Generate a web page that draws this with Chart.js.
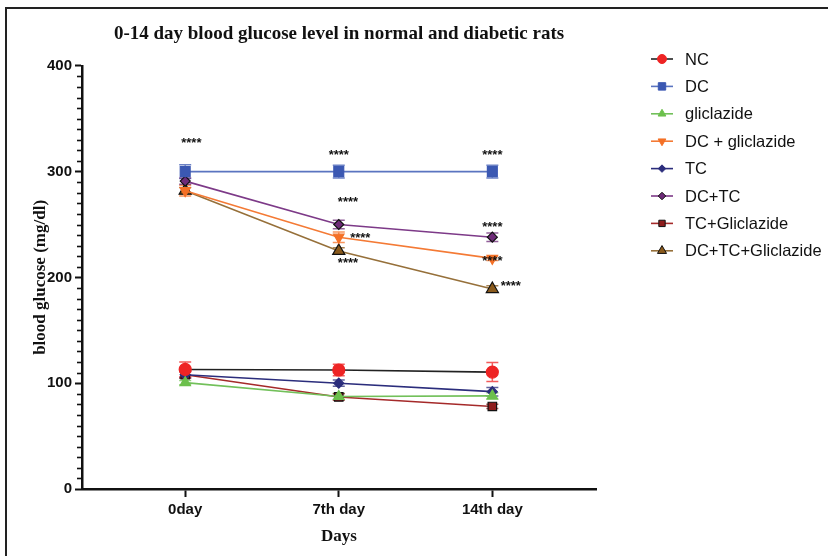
<!DOCTYPE html>
<html>
<head>
<meta charset="utf-8">
<script src="https://cdn.jsdelivr.net/npm/chart.js@4.4.1/dist/chart.umd.min.js"></script>
<style>
  body { margin: 0; background: #fff; }
  #wrap { position: relative; width: 828px; height: 556px; overflow: hidden; }
  #frame { position: absolute; left: 5px; top: 7px; width: 900px; height: 600px;
           border-top: 2.5px solid #222; border-left: 2.5px solid #222; }
  #chart { position: absolute; left: 0; top: 0; }
</style>
</head>
<body>
<div id="wrap">
  <div id="frame"></div>
  <canvas id="chart" width="828" height="556"></canvas>
</div>
<script>
// x categories
const days = ['0day', '7th day', '14th day'];

// series means (mg/dl)
const nc = [113, 112.5, 110.5];
const dc = [300, 300, 300];
const gliclazide = [100.5, 87.5, 88];
const dcGliclazide = [282, 238, 218];
const tc = [108, 100, 92];
const dcTc = [291, 250, 238];
const tcGliclazide = [108, 87, 78];
const dcTcGliclazide = [282, 225, 189];

// error bars (+/-)
const ncErr = [7, 5.5, 9];
const dcErr = [6.5, 6, 6];
const gliclazideErr = [2, 3, 3];
const dcGliclazideErr = [5, 5, 2];
const tcErr = [3, 3, 4];
const dcTcErr = [3, 4, 4];
const tcGliclazideErr = [3, 3, 2];
const dcTcGliclazideErr = [3, 3, 3];

const yTicks = [0, 100, 200, 300, 400];

// significance marks: day index and glucose value where they sit
const sigX = [0.04, 1, 2, 1.06, 1.14, 1.06, 2, 2, 2.12];
const sigY = [328, 317, 317, 272, 238.5, 214.5, 248.5, 216, 193];

function series(label, values, errors, line, fill, border, style, radius, rotation) {
  return {
    label: label,
    data: values.map((v, i) => ({ x: i, y: v })),
    errors: errors,
    borderColor: line,
    borderWidth: 1.6,
    pointStyle: style,
    pointRadius: radius,
    pointRotation: rotation || 0,
    pointBackgroundColor: fill,
    pointBorderColor: border,
    pointBorderWidth: 1.2,
    errColor: fill,
    tension: 0,
    fill: false
  };
}

const datasets = [
  series('NC', nc, ncErr, '#222222', '#ee2424', '#ee2424', 'circle', 6),
  series('DC', dc, dcErr, '#5a74c0', '#3b58b2', '#3b58b2', 'rect', 7),
  series('gliclazide', gliclazide, gliclazideErr, '#72c05a', '#6cc04c', '#6cc04c', 'triangle', 6),
  series('DC + gliclazide', dcGliclazide, dcGliclazideErr, '#f47a35', '#f47026', '#f47026', 'triangle', 6, 180),
  series('TC', tc, tcErr, '#2b2d7c', '#2b2d7c', '#2b2d7c', 'rectRot', 5),
  series('DC+TC', dcTc, dcTcErr, '#7d3a88', '#6e2a78', '#111111', 'rectRot', 5),
  series('TC+Gliclazide', tcGliclazide, tcGliclazideErr, '#a52a2a', '#8e1c1c', '#111111', 'rect', 6),
  series('DC+TC+Gliclazide', dcTcGliclazide, dcTcGliclazideErr, '#96703a', '#8a5a1c', '#111111', 'triangle', 7)
];

const errorBars = {
  id: 'errorBars',
  beforeDatasetsDraw(chart) {
    const ctx = chart.ctx;
    const xs = chart.scales.x, ys = chart.scales.y;
    chart.data.datasets.forEach(ds => {
      ctx.save();
      ctx.strokeStyle = ds.errColor;
      ctx.globalAlpha = 0.75;
      ctx.lineWidth = 1.5;
      ds.data.forEach((p, i) => {
        const e = ds.errors[i];
        const x = xs.getPixelForValue(p.x);
        const y1 = ys.getPixelForValue(p.y + e);
        const y2 = ys.getPixelForValue(p.y - e);
        ctx.beginPath();
        ctx.moveTo(x, y1); ctx.lineTo(x, y2);
        ctx.moveTo(x - 6, y1); ctx.lineTo(x + 6, y1);
        ctx.moveTo(x - 6, y2); ctx.lineTo(x + 6, y2);
        ctx.stroke();
      });
      ctx.restore();
    });
  }
};

const extras = {
  id: 'extras',
  afterDraw(chart) {
    const ctx = chart.ctx;
    const xs = chart.scales.x, ys = chart.scales.y;
    ctx.save();
    // minor ticks on y axis
    ctx.strokeStyle = '#111';
    ctx.lineWidth = 1.6;
    for (let v = 10; v < 400; v += 10) {
      if (v % 100 === 0) continue;
      const y = Math.round(ys.getPixelForValue(v)) + 0.5;
      ctx.beginPath();
      ctx.moveTo(ys.right - 5, y);
      ctx.lineTo(ys.right, y);
      ctx.stroke();
    }
    // significance stars
    ctx.fillStyle = '#111';
    ctx.font = 'bold 13px "Liberation Sans", Arial, sans-serif';
    ctx.textAlign = 'center';
    ctx.textBaseline = 'alphabetic';
    sigX.forEach((sx, i) => {
      ctx.fillText('****', xs.getPixelForValue(sx), ys.getPixelForValue(sigY[i]) + 5);
    });
    // legend
    ctx.font = '16.5px "Liberation Sans", Arial, sans-serif';
    ctx.textAlign = 'left';
    ctx.textBaseline = 'middle';
    chart.data.datasets.forEach((ds, i) => {
      const y = 59 + i * 27.4;
      ctx.strokeStyle = ds.borderColor;
      ctx.lineWidth = 1.6;
      ctx.beginPath();
      ctx.moveTo(651, y); ctx.lineTo(673, y);
      ctx.stroke();
      ctx.fillStyle = ds.pointBackgroundColor;
      ctx.strokeStyle = ds.pointBorderColor;
      ctx.lineWidth = 1;
      Chart.helpers.drawPoint(ctx, {
        pointStyle: ds.pointStyle,
        radius: ds.pointRadius * 0.75,
        rotation: ds.pointRotation,
        borderWidth: 1
      }, 662, y);
      ctx.fillStyle = '#111';
      ctx.fillText(ds.label, 685, y + 1);
    });
    ctx.restore();
  }
};

new Chart(document.getElementById('chart'), {
  type: 'line',
  data: { datasets: datasets },
  plugins: [errorBars, extras],
  options: {
    responsive: false,
    animation: false,
    layout: { padding: { left: 0, right: 232, top: 0, bottom: 0 } },
    plugins: {
      legend: { display: false },
      tooltip: { enabled: false },
      title: {
        display: true,
        fullSize: false,
        text: '0-14 day blood glucose level in normal and diabetic rats',
        color: '#111',
        font: { family: '"Liberation Serif", "Times New Roman", serif', size: 19, weight: 'bold' },
        padding: { top: 23, bottom: 20 }
      }
    },
    scales: {
      x: {
        type: 'linear',
        min: -0.672,
        max: 2.675,
        afterBuildTicks: s => { s.ticks = days.map((d, i) => ({ value: i })); },
        afterFit: s => { s.height = 67; },
        ticks: {
          callback: v => days[v],
          color: '#111',
          padding: 4,
          maxRotation: 0,
          font: { family: '"Liberation Sans", Arial, sans-serif', size: 15, weight: 'bold' }
        },
        grid: { drawOnChartArea: false, drawTicks: true, tickLength: 8, tickWidth: 2, tickColor: '#111' },
        border: { display: true, width: 2.5, color: '#111' },
        title: {
          display: true,
          text: 'Days',
          color: '#111',
          font: { family: '"Liberation Serif", "Times New Roman", serif', size: 17, weight: 'bold' },
          padding: { top: 4, bottom: 9 }
        }
      },
      y: {
        min: 0,
        max: 400,
        afterBuildTicks: s => { s.ticks = yTicks.map(v => ({ value: v })); },
        afterFit: s => { s.width = 82; },
        ticks: {
          color: '#111',
          padding: 3,
          font: { family: '"Liberation Sans", Arial, sans-serif', size: 15, weight: 'bold' }
        },
        grid: { drawOnChartArea: false, drawTicks: true, tickLength: 7, tickWidth: 2, tickColor: '#111' },
        border: { display: true, width: 2.5, color: '#111' },
        title: {
          display: true,
          text: 'blood glucose (mg/dl)',
          color: '#111',
          font: { family: '"Liberation Serif", "Times New Roman", serif', size: 17, weight: 'bold' },
          padding: { top: 30, bottom: 4 }
        }
      }
    }
  }
});
</script>
</body>
</html>
